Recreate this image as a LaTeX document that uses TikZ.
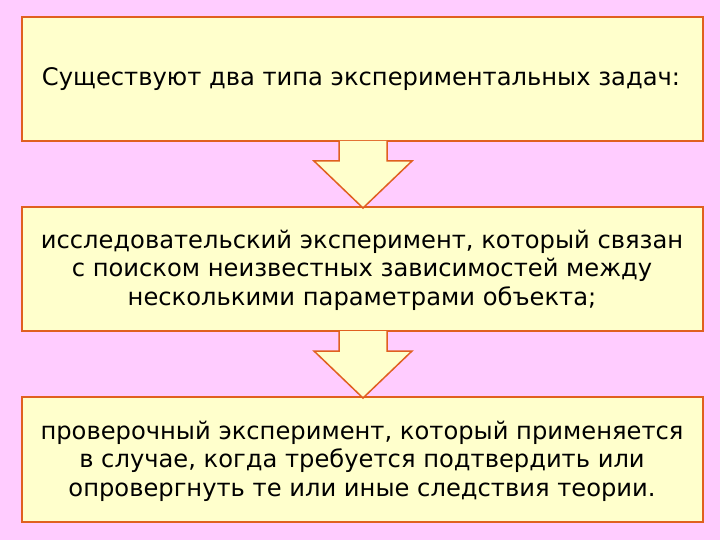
\documentclass[tikz,border=0pt]{standalone}
\usepackage{fontspec}
\setmainfont{DejaVu Sans}
\definecolor{bg}{HTML}{FFCCFF}
\definecolor{fillc}{HTML}{FFFFCC}
\definecolor{edge}{HTML}{E06020}
\begin{document}
\begin{tikzpicture}[x=1pt,y=-1pt,
  box/.style={draw=edge,fill=fillc,line width=1.5pt},
  txt/.style={align=center,font=\fontsize{24.2}{28.5}\selectfont}]
\fill[bg] (0,0) rectangle (720,540);
\useasboundingbox (0,0) rectangle (720,540);
\draw[box] (22,17) rectangle (703,141);
\draw[box] (22,207) rectangle (703,331);
\draw[box] (22,397) rectangle (703,522);
\draw[box] (339,141) -- (339,161) -- (314,161) -- (363,208) -- (412,161) -- (387,161) -- (387,141);
\draw[box] (339,331) -- (339,351) -- (314,351) -- (363,398) -- (412,351) -- (387,351) -- (387,331);
\node[txt] (t1) at (361,79) {Существуют два типа экспериментальных задач:};
\node[txt] (t2) at (362,270) {исследовательский эксперимент, который связан\\с поиском неизвестных зависимостей между\\несколькими параметрами объекта;};
\node[txt] (t3) at (362,461) {проверочный эксперимент, который применяется\\в случае, когда требуется подтвердить или\\опровергнуть те или иные следствия теории.};
\end{tikzpicture}
\end{document}
